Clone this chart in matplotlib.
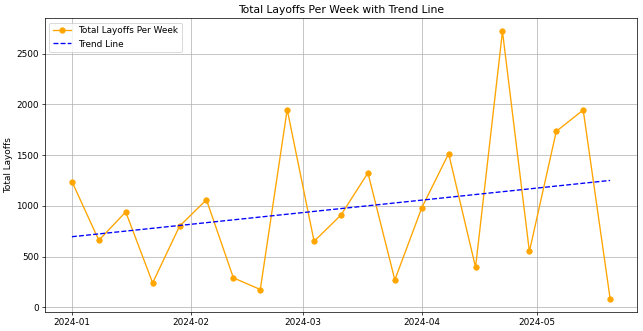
import numpy as np
import pandas as pd
import matplotlib
matplotlib.use("Agg")
import matplotlib.pyplot as plt
import matplotlib.dates as mdates

# weekly totals
weeks = pd.date_range("2024-01-01", periods=21, freq="W-MON")
layoffs = [1240, 660, 940, 240, 800, 1060, 290, 175, 1950, 650, 910,
           1325, 270, 980, 1515, 395, 2720, 550, 1735, 1945, 85]

# linear trend over week index
idx = np.arange(len(layoffs))
slope, intercept = np.polyfit(idx, layoffs, 1)
trend = slope * idx + intercept

fig = plt.figure(figsize=(10, 5.148), dpi=64.3)
ax = fig.add_axes([0.07, 0.0574, 0.9207, 0.888])

ax.plot(weeks, layoffs, marker="o", color="orange", label="Total Layoffs Per Week")
ax.plot(weeks, trend, "b--", label="Trend Line")

ax.set_title("Total Layoffs Per Week with Trend Line")
ax.set_ylabel("Total Layoffs")
ax.xaxis.set_major_locator(mdates.MonthLocator())
ax.xaxis.set_major_formatter(mdates.DateFormatter("%Y-%m"))
ax.grid(True)
ax.legend(loc="upper left")

fig.savefig("out.png", dpi=64.3)
